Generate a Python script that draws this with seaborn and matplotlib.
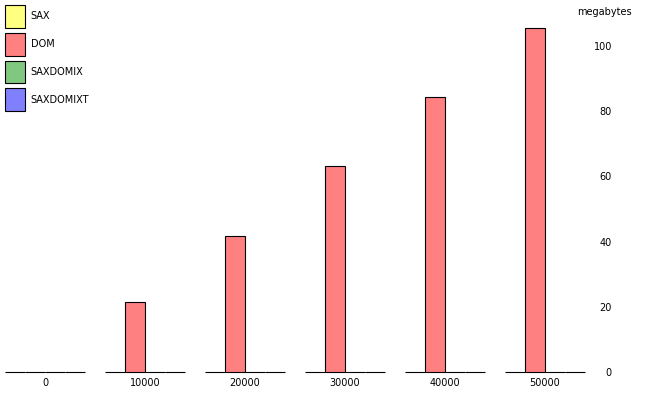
import matplotlib
matplotlib.use('Agg')
import matplotlib.pyplot as plt
import numpy as np
import pandas as pd
import seaborn as sns

# data (megabytes)
docs = [0, 10000, 20000, 30000, 40000, 50000]
series = ['SAX', 'DOM', 'SAXDOMIX', 'SAXDOMIXT']
sax = [0, 0, 0, 0, 0, 0]
dom = [0, 21.5, 41.8, 63.2, 84.5, 105.5]
saxdomix = [0, 0, 0, 0, 0, 0]
saxdomixt = [0, 0, 0, 0, 0, 0]
colors = ['#FFFF80', '#FF8080', '#80C880', '#8080FF']

rows = []
for name, vals in zip(series, [sax, dom, saxdomix, saxdomixt]):
    for d, v in zip(docs, vals):
        rows.append({'docs': str(d), 'series': name, 'mb': v})
df = pd.DataFrame(rows)

sns.set_style('white')
plt.rcParams['font.family'] = ['DejaVu Sans']
plt.rcParams['font.size'] = 7
plt.rcParams['text.color'] = 'black'
plt.rcParams['axes.labelcolor'] = 'black'
plt.rcParams['xtick.color'] = 'black'
plt.rcParams['ytick.color'] = 'black'

fig = plt.figure(figsize=(6.5, 4), dpi=100)
ax = fig.add_axes([0, 28 / 400, 612 / 650, 372 / 400])
sns.barplot(data=df, x='docs', y='mb', hue='series', hue_order=series,
            order=[str(d) for d in docs], palette=colors, width=0.8,
            edgecolor='black', linewidth=0.8, saturation=1, ax=ax)
for p in ax.patches:
    p.set_clip_on(False)

ax.set_xlim(-0.45, 5.67)
ax.set_ylim(0, 114.1)
for s in ax.spines.values():
    s.set_visible(False)
ax.yaxis.tick_right()
ax.set_yticks([0, 20, 40, 60, 80, 100])
for lab in ax.get_yticklabels():
    lab.set_ha('right')
ax.tick_params(axis='y', length=0, pad=0)
ax.tick_params(axis='x', length=0, pad=4.5)
ax.set_xlabel('')
ax.set_ylabel('megabytes', rotation=0, ha='center', va='center')
ax.yaxis.set_label_coords(604 / 612, 0.968)

# legend boxes about 20x23 px, one row every 28 px
ax.legend(loc='upper left', bbox_to_anchor=(5 / 650, 1 - 5 / 400),
          bbox_transform=fig.transFigure, frameon=False, borderpad=0,
          borderaxespad=0, handlelength=2.1, handleheight=3.25,
          labelspacing=0.5, handletextpad=0.55, title=None)

fig.savefig('out.png', dpi=100)
